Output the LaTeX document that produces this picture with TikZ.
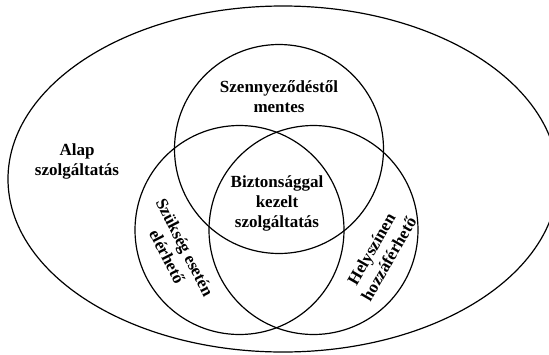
\documentclass[tikz,border=0pt]{standalone}
\usepackage{fontspec}
\setmainfont{Liberation Serif}
\begin{document}
\begin{tikzpicture}[x=1pt,y=-1pt,
  ring/.style={draw=black,line width=1.2pt},
  lbl/.style={font=\fontsize{17}{20}\selectfont\bfseries,align=center,inner sep=0pt}]
\useasboundingbox (0,0) rectangle (549,354);
\clip (0,0) rectangle (549,354);
\draw[ring] (283,179) ellipse [x radius=275, y radius=173];
\draw[ring] (279,149) circle [radius=104.5];
\draw[ring] (239.5,230) circle [radius=104.5];
\draw[ring] (313.5,230) circle [radius=104.5];
\node[lbl] (top) at (279,97) {Szennyeződéstől\\mentes};
\node[lbl] (alap) at (77,161) {Alap\\szolgáltatás};
\node[lbl] (mid) at (277,203) {Biztonsággal\\kezelt\\szolgáltatás};
\node[lbl,rotate=-63] (left) at (176,252) {Szükség esetén\\elérhető};
\node[lbl,rotate=60] (right) at (380,254) {Helyszínen\\hozzáférhető};
\end{tikzpicture}
\end{document}
